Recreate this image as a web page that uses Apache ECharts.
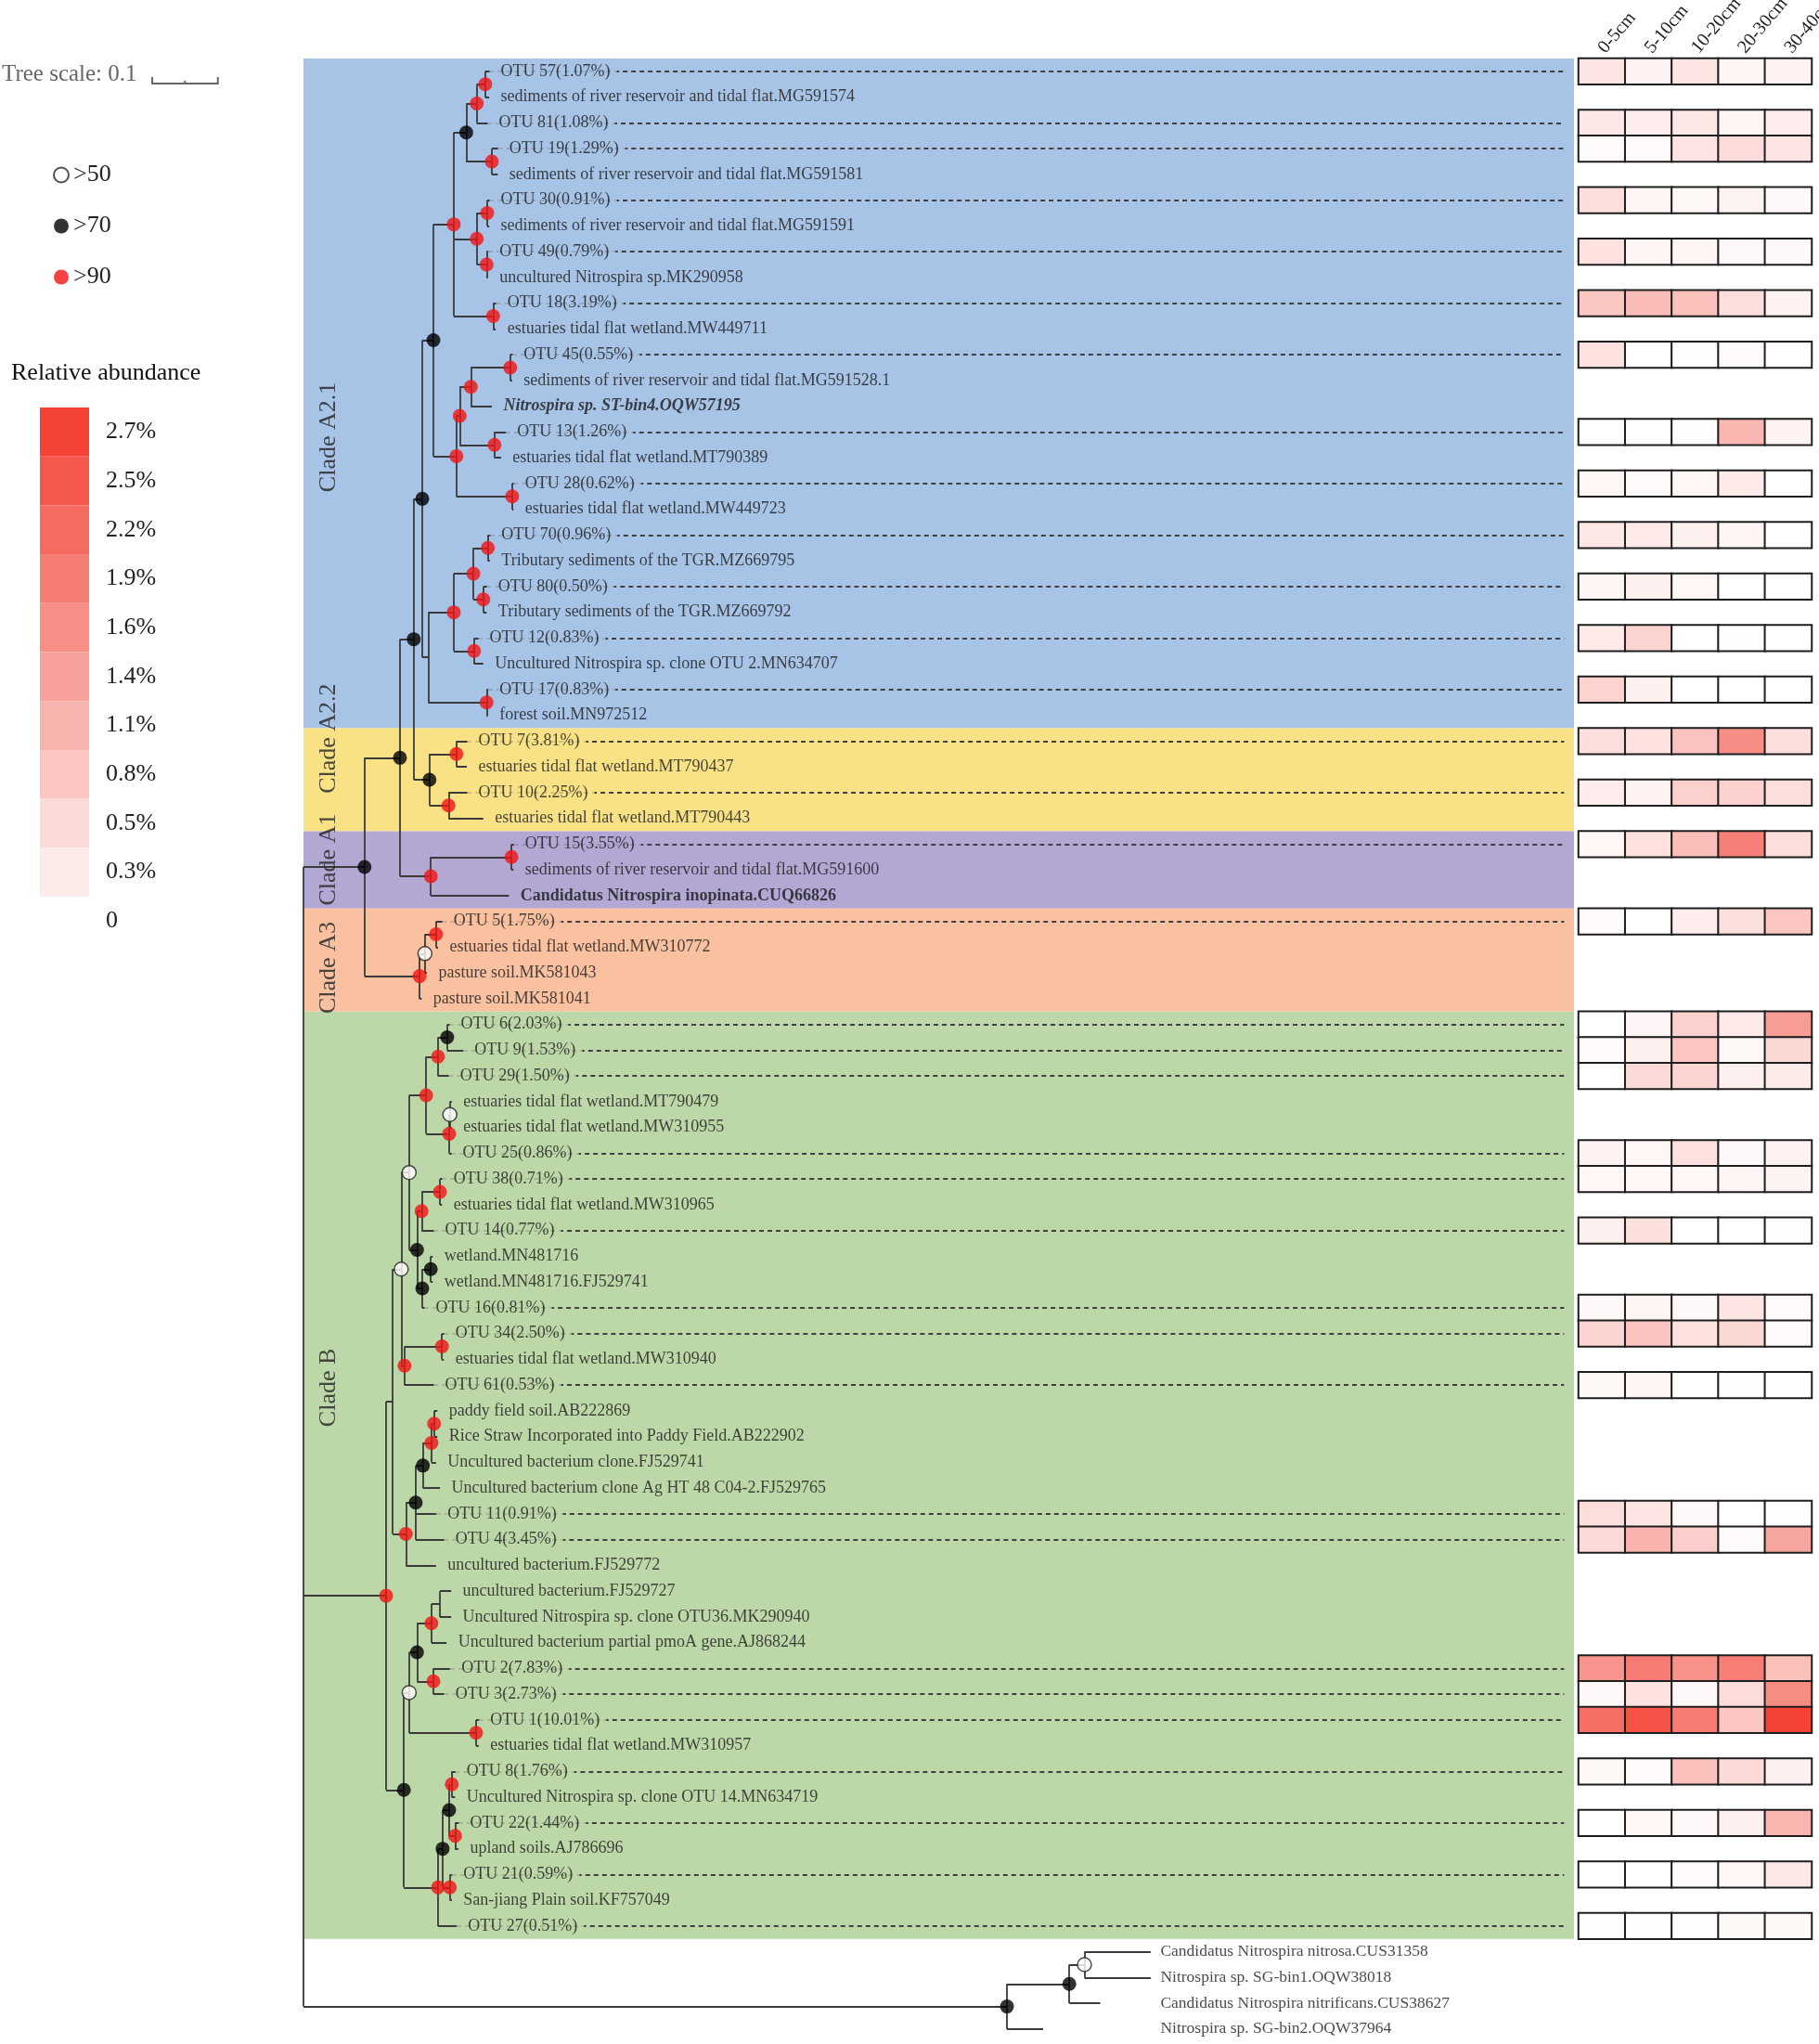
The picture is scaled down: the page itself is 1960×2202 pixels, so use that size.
<!DOCTYPE html>
<html>
<head>
<meta charset="utf-8">
<title>Nitrospira phylogeny with OTU abundance</title>
<script src="https://cdn.jsdelivr.net/npm/echarts@6/dist/echarts.min.js"></script>
<style>
html,body{margin:0;padding:0;background:#ffffff;}
#chart{width:1960px;height:2202px;}
</style>
</head>
<body>
<div id="chart"></div>
<script>
// ================= DATA =================
const leafNames = [
  'OTU 57(1.07%)','sediments of river reservoir and tidal flat.MG591574','OTU 81(1.08%)','OTU 19(1.29%)',
  'sediments of river reservoir and tidal flat.MG591581','OTU 30(0.91%)','sediments of river reservoir and tidal flat.MG591591',
  'OTU 49(0.79%)','uncultured Nitrospira sp.MK290958','OTU 18(3.19%)','estuaries tidal flat wetland.MW449711',
  'OTU 45(0.55%)','sediments of river reservoir and tidal flat.MG591528.1','Nitrospira sp. ST-bin4.OQW57195',
  'OTU 13(1.26%)','estuaries tidal flat wetland.MT790389','OTU 28(0.62%)','estuaries tidal flat wetland.MW449723',
  'OTU 70(0.96%)','Tributary sediments of the TGR.MZ669795','OTU 80(0.50%)','Tributary sediments of the TGR.MZ669792',
  'OTU 12(0.83%)','Uncultured Nitrospira sp. clone OTU 2.MN634707','OTU 17(0.83%)','forest soil.MN972512',
  'OTU 7(3.81%)','estuaries tidal flat wetland.MT790437','OTU 10(2.25%)','estuaries tidal flat wetland.MT790443',
  'OTU 15(3.55%)','sediments of river reservoir and tidal flat.MG591600','Candidatus Nitrospira inopinata.CUQ66826',
  'OTU 5(1.75%)','estuaries tidal flat wetland.MW310772','pasture soil.MK581043','pasture soil.MK581041',
  'OTU 6(2.03%)','OTU 9(1.53%)','OTU 29(1.50%)','estuaries tidal flat wetland.MT790479','estuaries tidal flat wetland.MW310955',
  'OTU 25(0.86%)','OTU 38(0.71%)','estuaries tidal flat wetland.MW310965','OTU 14(0.77%)','wetland.MN481716',
  'wetland.MN481716.FJ529741','OTU 16(0.81%)','OTU 34(2.50%)','estuaries tidal flat wetland.MW310940','OTU 61(0.53%)',
  'paddy field soil.AB222869','Rice Straw Incorporated into Paddy Field.AB222902','Uncultured bacterium clone.FJ529741',
  'Uncultured bacterium clone Ag HT 48 C04-2.FJ529765','OTU 11(0.91%)','OTU 4(3.45%)','uncultured bacterium.FJ529772',
  'uncultured bacterium.FJ529727','Uncultured Nitrospira sp. clone OTU36.MK290940','Uncultured bacterium partial pmoA gene.AJ868244',
  'OTU 2(7.83%)','OTU 3(2.73%)','OTU 1(10.01%)','estuaries tidal flat wetland.MW310957','OTU 8(1.76%)',
  'Uncultured Nitrospira sp. clone OTU 14.MN634719','OTU 22(1.44%)','upland soils.AJ786696','OTU 21(0.59%)',
  'San-jiang Plain soil.KF757049','OTU 27(0.51%)','Candidatus Nitrospira nitrosa.CUS31358','Nitrospira sp. SG-bin1.OQW38018',
  'Candidatus Nitrospira nitrificans.CUS38627','Nitrospira sp. SG-bin2.OQW37964'
];

// tip depth of every leaf (substitutions per site from the root)
const leafDepth = [
  0.283,0.283,0.280,0.296,0.296,0.283,0.283,0.281,0.281,0.293,0.293,0.318,0.318,0.287,0.308,0.301,0.320,0.320,
  0.284,0.284,0.279,0.279,0.266,0.274,0.281,0.281,0.249,0.249,0.249,0.274,0.320,0.320,0.313,0.211,0.205,0.188,0.180,
  0.222,0.243,0.221,0.226,0.226,0.225,0.211,0.211,0.198,0.197,0.197,0.184,0.214,0.214,0.198,0.204,0.204,0.202,0.208,
  0.202,0.214,0.202,0.225,0.225,0.218,0.223,0.214,0.267,0.267,0.231,0.231,0.236,0.236,0.226,0.226,0.233,
  1.291,1.291,1.214,1.127
];

// internal node = [depth, bootstrap class (0 = none), ...children]; child number = leaf index
const tree = [0, 0,
  [0.093, 70,
    [0.147, 70,
      [0.168, 70,
        [0.181, 70,
          [0.198, 70,
            [0.229, 90,
              [0.248, 70, [0.264, 90, [0.277, 90, 0, 1], 2], [0.287, 90, 3, 4]],
              [0.264, 90, [0.280, 90, 5, 6], [0.279, 90, 7, 8]],
              [0.289, 90, 9, 10]],
            [0.233, 90,
              [0.238, 90, [0.255, 90, [0.315, 90, 11, 12], 13], [0.291, 90, 14, 15]],
              [0.318, 90, 16, 17]]],
          [0.190, 0,
            [0.229, 90, [0.259, 90, [0.281, 90, 18, 19], [0.274, 90, 20, 21]], [0.260, 90, 22, 23]],
            [0.279, 90, 24, 25]]],
        [0.192, 70, [0.233, 90, 26, 27], [0.221, 90, 28, 29]]],
      [0.194, 90, [0.317, 90, 30, 31], 32]],
    [0.177, 90, [0.185, 50, [0.202, 90, 33, 34], 35], 36]],
  [0.126, 90,
    [0.136, 0,
      [0.149, 50,
        [0.161, 50,
          [0.187, 90, [0.205, 90, [0.219, 70, 37, 38], 39], [0.222, 90, [0.223, 50, 40, 41], 42]],
          [0.173, 70, [0.180, 90, [0.208, 90, 43, 44], 45], [0.181, 70, [0.194, 70, 46, 47], 48]]],
        [0.154, 90, [0.211, 90, 49, 50], 51]],
      [0.156, 90,
        [0.171, 70, [0.182, 70, [0.195, 90, [0.199, 90, 52, 53], 54], 55], 56, 57],
        58]],
    [0.153, 70,
      [0.161, 50,
        [0.173, 70, [0.195, 90, [0.208, 0, 59, 60], 61], [0.198, 90, 62, 63]],
        [0.263, 90, 64, 65]],
      [0.205, 90,
        [0.212, 70, [0.222, 70, [0.226, 90, 66, 67], [0.231, 90, 68, 69]], [0.223, 90, 70, 71]],
        72]]],
  [1.072, 70, [1.167, 70, [1.190, 50, 73, 74], 75], 76]
];

const depthLabels = ['0-5cm','5-10cm','10-20cm','20-30cm','30-40cm'];

// relative abundance (%) per depth layer
const otuAbundance = [
  ['OTU 57(1.07%)', [0.36,0.17,0.36,0.14,0.17]],
  ['OTU 81(1.08%)', [0.32,0.24,0.32,0.14,0.24]],
  ['OTU 19(1.29%)', [0.07,0.07,0.37,0.49,0.36]],
  ['OTU 30(0.91%)', [0.45,0.14,0.10,0.16,0.09]],
  ['OTU 49(0.79%)', [0.40,0.14,0.14,0.09,0.09]],
  ['OTU 18(3.19%)', [0.79,0.95,0.90,0.45,0.17]],
  ['OTU 45(0.55%)', [0.40,0.00,0.04,0.07,0.00]],
  ['OTU 13(1.26%)', [0.00,0.00,0.03,1.02,0.17]],
  ['OTU 28(0.62%)', [0.11,0.06,0.11,0.29,0.00]],
  ['OTU 70(0.96%)', [0.32,0.29,0.20,0.13,0.00]],
  ['OTU 80(0.50%)', [0.13,0.20,0.11,0.00,0.00]],
  ['OTU 12(0.83%)', [0.29,0.60,0.00,0.03,0.00]],
  ['OTU 17(0.83%)', [0.63,0.20,0.00,0.00,0.00]],
  ['OTU 7(3.81%)',  [0.45,0.42,0.85,1.65,0.45]],
  ['OTU 10(2.25%)', [0.26,0.17,0.67,0.65,0.47]],
  ['OTU 15(3.55%)', [0.11,0.42,0.93,1.85,0.45]],
  ['OTU 5(1.75%)',  [0.06,0.00,0.24,0.43,0.83]],
  ['OTU 6(2.03%)',  [0.00,0.12,0.66,0.29,1.42]],
  ['OTU 9(1.53%)',  [0.07,0.20,0.83,0.10,0.55]],
  ['OTU 29(1.50%)', [0.00,0.53,0.60,0.20,0.27]],
  ['OTU 25(0.86%)', [0.17,0.11,0.42,0.09,0.17]],
  ['OTU 38(0.71%)', [0.11,0.11,0.11,0.14,0.16]],
  ['OTU 14(0.77%)', [0.20,0.43,0.00,0.00,0.03]],
  ['OTU 16(0.81%)', [0.09,0.14,0.09,0.36,0.07]],
  ['OTU 34(2.50%)', [0.60,0.85,0.42,0.56,0.06]],
  ['OTU 61(0.53%)', [0.10,0.14,0.00,0.04,0.00]],
  ['OTU 11(0.91%)', [0.45,0.36,0.09,0.00,0.01]],
  ['OTU 4(3.45%)',  [0.53,1.10,0.69,0.06,1.28]],
  ['OTU 2(7.83%)',  [1.54,1.91,1.59,1.88,0.89]],
  ['OTU 3(2.73%)',  [0.09,0.40,0.09,0.49,1.67]],
  ['OTU 1(10.01%)', [2.11,2.50,1.91,0.82,2.70]],
  ['OTU 8(1.76%)',  [0.10,0.06,0.89,0.53,0.20]],
  ['OTU 22(1.44%)', [0.00,0.11,0.09,0.20,1.05]],
  ['OTU 21(0.59%)', [0.00,0.00,0.06,0.11,0.33]],
  ['OTU 27(0.51%)', [0.04,0.04,0.04,0.10,0.10]]
];

// clade name, first leaf row, last leaf row
const clades = [['Clade A2.1',0,25],['Clade A2.2',26,29],['Clade A1',30,32],['Clade A3',33,36],['Clade B',37,72]];
const supportClasses = ['>50','>70','>90'];
const abundanceLegendValues = [0,0.3,0.5,0.8,1.1,1.4,1.6,1.9,2.2,2.5,2.7];
const abundanceLegendLabels = ['0','0.3%','0.5%','0.8%','1.1%','1.4%','1.6%','1.9%','2.2%','2.5%','2.7%'];
const treeScaleValue = 0.1;
const boldLeaves = ['Candidatus Nitrospira inopinata.CUQ66826','Nitrospira sp. ST-bin4.OQW57195'];
const italicLeaves = ['Nitrospira sp. ST-bin4.OQW57195'];

// ================= STYLE / LAYOUT =================
const FONT = "'Liberation Serif','Times New Roman',serif";
const TREE_MAX = 1.936, DASH_END = 1.921, CLADE_LABEL_X = 0.038;
const TREE_LEFT = 327, TREE_WIDTH = 1369;
const PX_PER_UNIT = TREE_WIDTH / TREE_MAX;
const cladeColors = ['#a7c3e5','#f9e286','#b3a7d4','#f9c1a0','#bdd8a8'];
const cladeLabelShift = [1.7,-1.6,-0.4,0.3,-3.4];
const abundanceColors = ['#ffffff','#fdebea','#fcd9d6','#fbc6c2','#f9b3ae','#f8a19b','#f78f87','#f67d74','#f56b61','#f4574c','#f44336'];
const supportStyle = {
  '>50': {color:'#ffffff', borderColor:'#222222', borderWidth:1.5},
  '>70': {color:'#000000'},
  '>90': {color:'#f01414'}
};
const ROWS = leafNames.length;
const GRID_TOP = 63, ROW_H = 27.75;
const GRID_H = ROWS * ROW_H;
const LABEL_GAP = 12;

// ================= BUILD =================
const segs = [];
const dots = {50: [], 70: [], 90: []};
function walk(n) {
  if (typeof n === 'number') return {y: n, d: leafDepth[n]};
  const d = n[0], s = n[1];
  const kids = n.slice(2).map(walk);
  const y = (kids[0].y + kids[kids.length - 1].y) / 2;
  segs.push([[d, kids[0].y], [d, kids[kids.length - 1].y]]);
  kids.forEach(k => segs.push([[d, k.y], [k.d, k.y]]));
  if (s) dots[s].push([d, y]);
  return {y, d};
}
walk(tree);

const rowOf = {};
leafNames.forEach((n, i) => { rowOf[n] = i; });
function cladeOfRow(r) { return clades.findIndex(c => r >= c[1] && r <= c[2]); }
const otuSet = new Set(otuAbundance.map(a => a[0]));
const lastCladeRow = clades[clades.length - 1][2];
const outgroupTipMax = Math.max.apply(null, leafDepth.slice(lastCladeRow + 1));

const leafItems = leafNames.map((n, i) => {
  const lab = {};
  if (otuSet.has(n)) {
    const k = cladeOfRow(i);
    lab.backgroundColor = k >= 0 ? cladeColors[k] : '#ffffff';
    lab.padding = [2, 7, 2, LABEL_GAP];
    lab.distance = 0;
  }
  if (boldLeaves.includes(n)) lab.fontWeight = 'bold';
  if (italicLeaves.includes(n)) lab.fontStyle = 'italic';
  if (i > lastCladeRow) {
    lab.fontSize = 17.5;
    lab.distance = LABEL_GAP - 2 + (outgroupTipMax - leafDepth[i]) * PX_PER_UNIT;
  }
  return {name: n, value: [leafDepth[i], i], label: lab};
});

const dashSegs = otuAbundance.map(a => {
  const r = rowOf[a[0]];
  return {coords: [[leafDepth[r], r], [DASH_END, r]]};
});

const heat = [];
otuAbundance.forEach(a => {
  const r = rowOf[a[0]];
  a[1].forEach((v, j) => heat.push([j, r, v]));
});

const cladeLabelItems = clades.map((c, k) => ({
  name: c[0], value: [CLADE_LABEL_X, (c[1] + c[2]) / 2 + cladeLabelShift[k]]
}));

const series = [];
series.push({
  type: 'custom', name: 'bands', xAxisIndex: 0, yAxisIndex: 0, z: 0, silent: true,
  encode: {x: [0, 2], y: [1, 3]},
  data: clades.map((c, k) => [0, c[1] - 0.5, TREE_MAX, c[2] + 0.5, k]),
  renderItem: function (params, api) {
    const a = api.coord([api.value(0), api.value(1)]);
    const b = api.coord([api.value(2), api.value(3)]);
    return {type: 'rect', shape: {x: a[0], y: a[1], width: b[0] - a[0], height: b[1] - a[1]},
            style: {fill: cladeColors[api.value(4)]}};
  }
});
series.push({
  type: 'lines', name: 'connectors', coordinateSystem: 'cartesian2d', xAxisIndex: 0, yAxisIndex: 0,
  z: 2, silent: true, polyline: false,
  lineStyle: {color: '#404040', width: 1.8, type: [5, 4], opacity: 1},
  data: dashSegs
});
series.push({
  type: 'lines', name: 'branches', coordinateSystem: 'cartesian2d', xAxisIndex: 0, yAxisIndex: 0,
  z: 3, silent: true, polyline: false,
  lineStyle: {color: '#3a3a3a', width: 1.8, opacity: 1},
  data: segs.map(s => ({coords: s}))
});
series.push({
  type: 'scatter', name: 'leaves', xAxisIndex: 0, yAxisIndex: 0, z: 5, silent: true,
  symbolSize: 1, itemStyle: {color: 'rgba(0,0,0,0)'},
  label: {show: true, position: 'right', distance: LABEL_GAP, formatter: '{b}',
          fontFamily: FONT, fontSize: 18, color: '#1a1a1a'},
  data: leafItems
});
series.push({
  type: 'scatter', name: 'cladeLabels', xAxisIndex: 0, yAxisIndex: 0, z: 4, silent: true,
  symbolSize: 1, itemStyle: {color: 'rgba(0,0,0,0)'},
  label: {show: true, position: 'inside', rotate: 90, formatter: '{b}',
          fontFamily: FONT, fontSize: 26, color: '#222222'},
  data: cladeLabelItems
});
supportClasses.forEach(name => {
  const key = parseInt(name.slice(1), 10);
  series.push({
    type: 'scatter', name: name, xAxisIndex: 0, yAxisIndex: 0, z: 6, silent: true,
    symbol: 'circle', symbolSize: 15, itemStyle: supportStyle[name], data: dots[key]
  });
});
const HEAT_IDX = series.length;
series.push({
  type: 'heatmap', name: 'abundance', xAxisIndex: 1, yAxisIndex: 1, silent: true,
  itemStyle: {borderColor: '#1e1e1e', borderWidth: 2},
  emphasis: {disabled: true},
  data: heat
});
const LEGEND_IDX = series.length;
series.push({type: 'scatter', name: 'abundanceLegend', xAxisIndex: 1, yAxisIndex: 1, data: []});

const option = {
  animation: false,
  backgroundColor: '#ffffff',
  title: {text: 'Relative abundance', left: 12, top: 389, padding: 0,
          textStyle: {fontFamily: FONT, fontSize: 26, fontWeight: 'normal', color: '#111111'}},
  legend: {
    data: supportClasses, orient: 'vertical', left: 52, top: 169, icon: 'circle',
    itemWidth: 16, itemHeight: 16, itemGap: 26, selectedMode: false,
    textStyle: {fontFamily: FONT, fontSize: 26, color: '#222222', lineHeight: 29}
  },
  grid: [
    {left: TREE_LEFT, top: GRID_TOP, width: TREE_WIDTH, height: GRID_H, containLabel: false, outerBoundsMode: 'none'},
    {left: 1701, top: GRID_TOP, width: 251, height: GRID_H, containLabel: false, outerBoundsMode: 'none'}
  ],
  xAxis: [
    {gridIndex: 0, type: 'value', min: 0, max: TREE_MAX, show: false},
    {gridIndex: 1, type: 'category', data: depthLabels, position: 'top',
     axisLine: {show: false}, axisTick: {show: false}, splitLine: {show: false},
     axisLabel: {rotate: -50, align: 'left', verticalAlign: 'middle', interval: 0, margin: 8,
                 hideOverlap: false, fontFamily: FONT, fontSize: 20, color: '#222222'}}
  ],
  yAxis: [
    {gridIndex: 0, type: 'value', min: -0.5, max: ROWS - 0.5, inverse: true, show: false},
    {gridIndex: 1, type: 'category', data: leafNames.map((_, i) => String(i)), inverse: true, show: false}
  ],
  visualMap: [
    {type: 'continuous', show: false, seriesIndex: HEAT_IDX, dimension: 2, min: 0, max: 2.7,
     inRange: {color: abundanceColors}},
    {type: 'piecewise', seriesIndex: LEGEND_IDX, orient: 'vertical', left: 43, top: 439,
     itemWidth: 53, itemHeight: 52.7, itemGap: 0, itemSymbol: 'rect', textGap: 18,
     selectedMode: false, align: 'left', padding: 0,
     textStyle: {fontFamily: FONT, fontSize: 26, color: '#222222'},
     pieces: abundanceLegendValues.map((v, k) => ({value: v, label: abundanceLegendLabels[k], color: abundanceColors[k]}))}
  ],
  series: series
};

const chart = echarts.init(document.getElementById('chart'), null, {renderer: 'canvas'});
chart.setOption(option);

const px0 = chart.convertToPixel({xAxisIndex: 0}, 0);
const px1 = chart.convertToPixel({xAxisIndex: 0}, treeScaleValue);
const barLen = px1 - px0;
const barX = 164, barY = 90;
chart.setOption({
  graphic: [
    {type: 'text', left: 2, top: 68, style: {text: 'Tree scale: ' + treeScaleValue, font: '25px ' + FONT, fill: '#666666'}},
    {type: 'polyline', shape: {points: [[barX, barY - 7], [barX, barY], [barX + barLen, barY], [barX + barLen, barY - 7]]},
     style: {stroke: '#666666', lineWidth: 2, fill: null}},
    {type: 'line', shape: {x1: barX + barLen / 2, y1: barY, x2: barX + barLen / 2, y2: barY - 3},
     style: {stroke: '#666666', lineWidth: 2}}
  ]
});
</script>
</body>
</html>
